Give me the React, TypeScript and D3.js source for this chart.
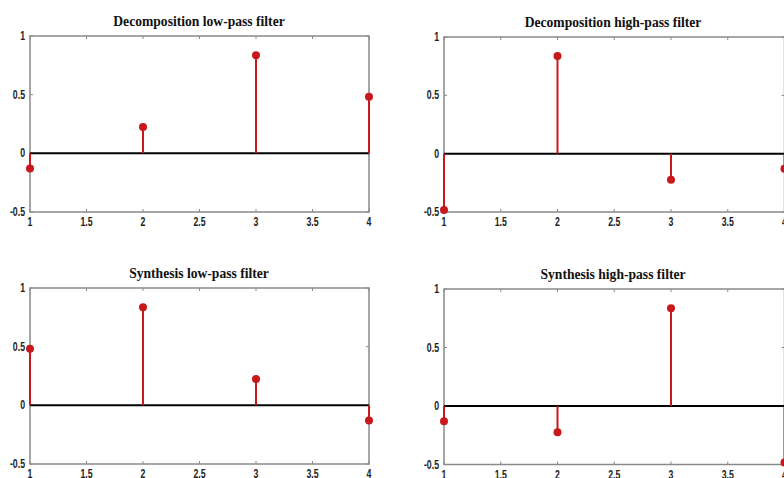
import React from 'react';
import * as d3 from 'd3';

// db2 wavelet filters
const indices = [1, 2, 3, 4];
const decLow = [-0.1294, 0.2241, 0.8365, 0.483];
const decHigh = [-0.483, 0.8365, -0.2241, -0.1294];
const recLow = [0.483, 0.8365, 0.2241, -0.1294];
const recHigh = [-0.1294, -0.2241, 0.8365, -0.483];
const titles = [
  'Decomposition low-pass filter',
  'Decomposition high-pass filter',
  'Synthesis low-pass filter',
  'Synthesis high-pass filter',
];
const xTicks = [1, 1.5, 2, 2.5, 3, 3.5, 4];
const yTicks = [-0.5, 0, 0.5, 1];

const series = [decLow, decHigh, recLow, recHigh];

// panel boxes (left, right, top, bottom)
const boxes = [
  { l: 30, r: 369, t: 36, b: 212 },
  { l: 444, r: 784.5, t: 37, b: 212 },
  { l: 30, r: 369, t: 288, b: 464 },
  { l: 444, r: 784.5, t: 289, b: 464.5 },
];

const stemColor = '#c8181c';
const boxColor = '#8a8a8a';
const tickFont = "'Liberation Sans', Arial, sans-serif";

// condensed bold tick label, like the old matlab export
const TickLabel = ({ x, y, anchor, children }: { x: number; y: number; anchor: string; children: string }) => (
  <text
    transform={`translate(${x},${y}) scale(0.7,1)`}
    textAnchor={anchor}
    fontFamily={tickFont}
    fontWeight="bold"
    fontSize={12.5}
    fill="#222"
  >
    {children}
  </text>
);

const Panel = ({ idx }: { idx: number }) => {
  const box = boxes[idx];
  const values = series[idx];
  const x = d3.scaleLinear().domain([1, 4]).range([box.l, box.r]);
  const y = d3.scaleLinear().domain([-0.5, 1]).range([box.b, box.t]);
  const titleCx = idx % 2 === 0 ? 199 : 613;

  return (
    <g>
      <text
        x={titleCx}
        y={box.t - 10}
        textAnchor="middle"
        fontFamily="'Liberation Serif', 'Times New Roman', serif"
        fontWeight="bold"
        fontSize={13.6}
        fill="#111"
      >
        {titles[idx]}
      </text>
      <rect x={box.l} y={box.t} width={box.r - box.l} height={box.b - box.t} fill="#fff" stroke={boxColor} strokeWidth={1.5} />
      {xTicks.map((t) => (
        <g key={'xt' + t}>
          <line x1={x(t)} x2={x(t)} y1={box.b} y2={box.b - 3} stroke={boxColor} />
          <line x1={x(t)} x2={x(t)} y1={box.t} y2={box.t + 3} stroke={boxColor} />
          <TickLabel x={x(t)} y={box.b + 14} anchor="middle">
            {String(t)}
          </TickLabel>
        </g>
      ))}
      {yTicks.map((t) => (
        <g key={'yt' + t}>
          <line x1={box.l} x2={box.l + 3} y1={y(t)} y2={y(t)} stroke={boxColor} />
          <line x1={box.r} x2={box.r - 3} y1={y(t)} y2={y(t)} stroke={boxColor} />
          <TickLabel x={box.l - 5} y={y(t) + 4} anchor="end">
            {String(t)}
          </TickLabel>
        </g>
      ))}
      <line x1={box.l} x2={box.r} y1={y(0)} y2={y(0)} stroke="#000" strokeWidth={2} />
      {indices.map((n, i) => (
        <g key={'s' + n}>
          <line x1={x(n)} x2={x(n)} y1={y(0)} y2={y(values[i])} stroke={stemColor} strokeWidth={2} />
          <circle cx={x(n)} cy={y(values[i])} r={4} fill={stemColor} />
        </g>
      ))}
    </g>
  );
};

export default function App() {
  return (
    <svg
      width={784}
      height={478}
      style={{ position: 'absolute', left: 0, top: 0, background: '#fff' }}
    >
      <rect width={784} height={478} fill="#fff" />
      {series.map((_, i) => (
        <Panel key={i} idx={i} />
      ))}
    </svg>
  );
}
